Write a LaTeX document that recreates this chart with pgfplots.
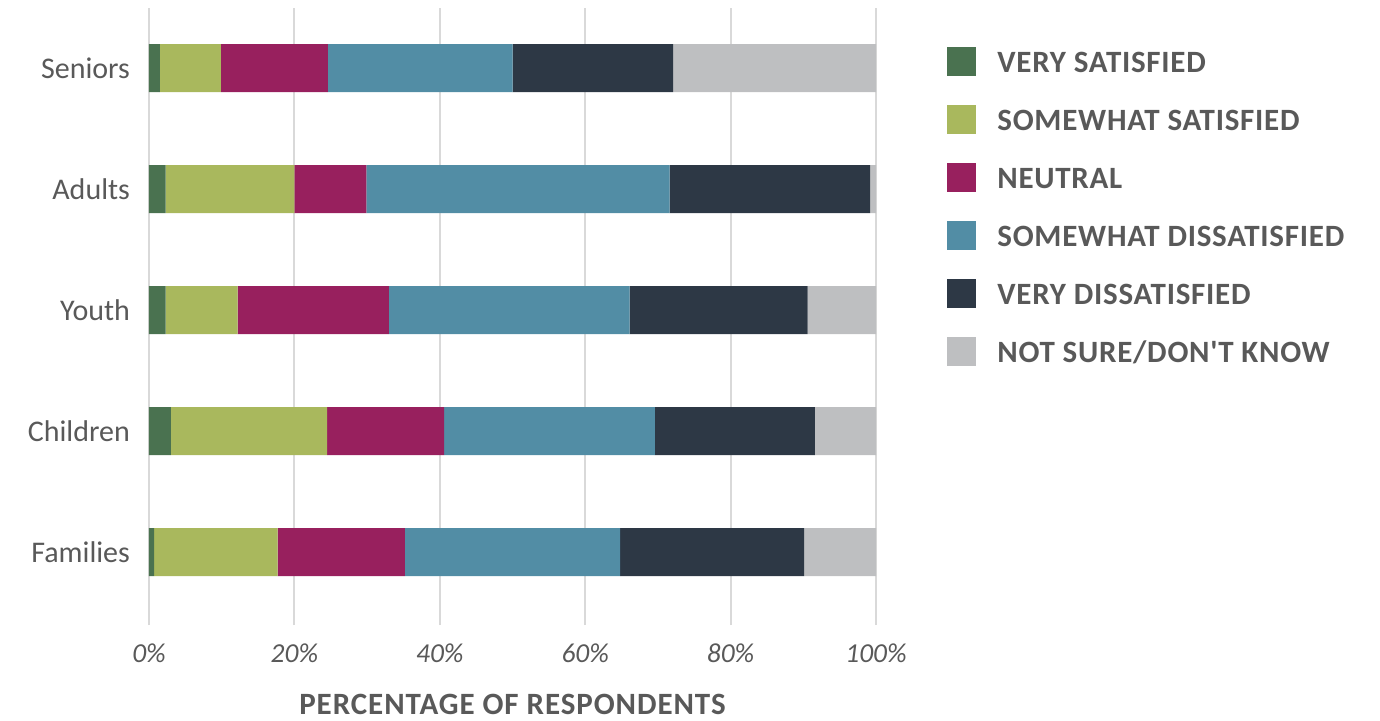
\documentclass[border=0pt]{standalone}
\usepackage{fontspec}
\setmainfont{Carlito}
\newfontfamily\spacedfont[LetterSpace=3]{Carlito}
\newfontfamily\legfont[LetterSpace=2.4]{Carlito}
\usepackage{pgfplots}
\usepackage{pgfplotstable}
\pgfplotsset{compat=1.18}
\definecolor{cVS}{RGB}{74,114,80}
\definecolor{cSS}{RGB}{169,184,93}
\definecolor{cNE}{RGB}{152,32,94}
\definecolor{cSD}{RGB}{82,141,165}
\definecolor{cVD}{RGB}{45,56,69}
\definecolor{cNS}{RGB}{190,191,193}
\definecolor{txt}{RGB}{89,89,89}
\definecolor{grd}{RGB}{217,217,217}
\pgfplotstableread{
y vs ss ne sd vd ns
0 0.7 17.0 17.5 29.6 25.3 9.9
1 3.0 21.5 16.1 29.0 22.0 8.4
2 2.3 9.9 20.8 33.1 24.5 9.4
3 2.3 17.7 9.9 41.7 27.6 0.8
4 1.5 8.4 14.7 25.4 22.1 27.9
}\datatable
\begin{document}
\begin{tikzpicture}
\path[use as bounding box] (-74.5pt,-47.5pt) rectangle (615.5pt,312.5pt);
\begin{axis}[
  at={(0,0)}, anchor=south west,
  scale only axis,
  width=363.5pt, height=308.5pt,
  xbar stacked,
  bar width=24pt,
  xmin=0, xmax=100,
  ymin=-0.603, ymax=4.496,
  xtick={0,20,40,60,80,100},
  xticklabels={0\%,20\%,40\%,60\%,80\%,100\%},
  ytick={0,1,2,3,4},
  yticklabels={Families,Children,Youth,Adults,Seniors},
  axis line style={draw=none},
  major tick length=0pt,
  xmajorgrids,
  grid style={grd, line width=1pt},
  xticklabel style={font=\fontsize{13.7}{16}\selectfont\itshape, text=txt, yshift=-6pt},
  yticklabel style={font=\fontsize{15}{18}\selectfont, text=txt, xshift=-6pt},
  xlabel={\spacedfont\bfseries PERCENTAGE OF RESPONDENTS},
  xlabel style={font=\fontsize{15.5}{18}\selectfont, text=txt, yshift=-8.5pt},
  legend style={at={(1,1)}, anchor=north west, xshift=32.5pt, yshift=-17.5pt,
    draw=none, fill=none, font=\fontsize{15.5}{18}\selectfont\legfont\bfseries,
    text=txt, row sep=14.5pt, column sep=10.5pt,
    nodes={inner sep=0pt, text height=10pt, text depth=0pt}},
  legend cell align=left,
  legend image code/.code={\fill[#1] (0pt,-6.75pt) rectangle (14.5pt,7.75pt);},
]
\addplot[fill=cVS, draw=none] table[x=vs, y=y] {\datatable};
\addplot[fill=cSS, draw=none] table[x=ss, y=y] {\datatable};
\addplot[fill=cNE, draw=none] table[x=ne, y=y] {\datatable};
\addplot[fill=cSD, draw=none] table[x=sd, y=y] {\datatable};
\addplot[fill=cVD, draw=none] table[x=vd, y=y] {\datatable};
\addplot[fill=cNS, draw=none] table[x=ns, y=y] {\datatable};
\legend{VERY SATISFIED, SOMEWHAT SATISFIED, NEUTRAL, SOMEWHAT DISSATISFIED, VERY DISSATISFIED, NOT SURE/DON'T KNOW}
\end{axis}
\end{tikzpicture}
\end{document}
